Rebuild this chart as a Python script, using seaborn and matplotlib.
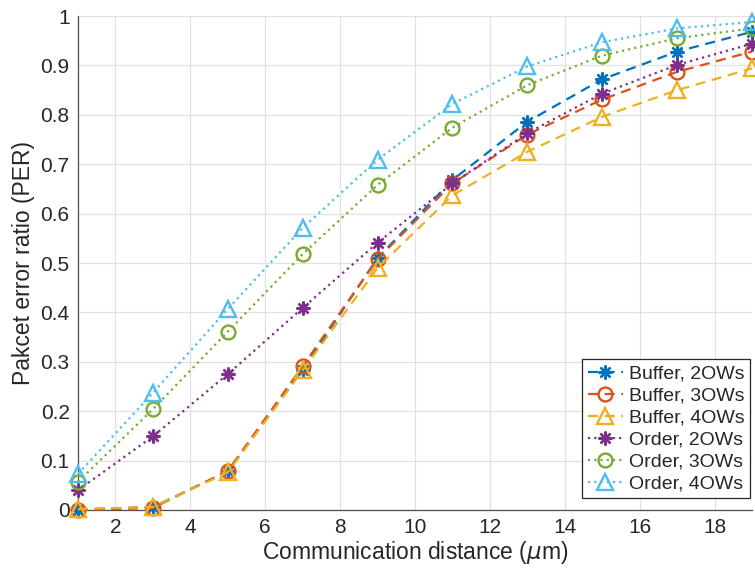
import numpy as np
import pandas as pd
import matplotlib
matplotlib.use("Agg")
import matplotlib.pyplot as plt
import seaborn as sns

# Communication distance (um)
distance = [1, 3, 5, 7, 9, 11, 13, 15, 17, 19]

# Packet error ratio per scheme
buffer_2ow = [0.001, 0.006, 0.078, 0.284, 0.510, 0.668, 0.786, 0.872, 0.928, 0.968]
buffer_3ow = [0.000, 0.004, 0.079, 0.291, 0.508, 0.661, 0.760, 0.831, 0.887, 0.928]
buffer_4ow = [0.002, 0.006, 0.076, 0.283, 0.490, 0.637, 0.725, 0.796, 0.850, 0.894]
order_2ow = [0.040, 0.149, 0.275, 0.409, 0.541, 0.661, 0.763, 0.843, 0.901, 0.944]
order_3ow = [0.057, 0.204, 0.361, 0.518, 0.658, 0.774, 0.860, 0.920, 0.955, 0.975]
order_4ow = [0.073, 0.237, 0.407, 0.571, 0.709, 0.822, 0.898, 0.947, 0.975, 0.988]

labels = ["Buffer, 2OWs", "Buffer, 3OWs", "Buffer, 4OWs",
          "Order, 2OWs", "Order, 3OWs", "Order, 4OWs"]
series = [buffer_2ow, buffer_3ow, buffer_4ow, order_2ow, order_3ow, order_4ow]
colors = ["#0072BD", "#D95319", "#EDB120", "#7E2F8E", "#77AC30", "#4DBEEE"]
markers = [(8, 2, 0), "o", "^", (8, 2, 0), "o", "^"]
dashes = [(4.5, 3), (4.5, 3), (4.5, 3), (1, 1.8), (1, 1.8), (1, 1.8)]

df = pd.DataFrame({
    "distance": distance * len(series),
    "per": np.concatenate(series),
    "scheme": np.repeat(labels, len(distance)),
})

sns.set_theme(style="whitegrid")
plt.rcParams["font.family"] = ["Liberation Sans", "DejaVu Sans"]
plt.rcParams["mathtext.fontset"] = "dejavusans"

fig = plt.figure(figsize=(7.55, 5.72), dpi=100)
ax = fig.add_axes([0.1033, 0.1084, 0.8927, 0.8636])

for lab, col, mk, ds in zip(labels, colors, markers, dashes):
    sub = df[df["scheme"] == lab]
    ms = 11 if mk == "^" else 10
    sns.lineplot(data=sub, x="distance", y="per", ax=ax, color=col,
                 marker=mk, markersize=ms, markerfacecolor="none",
                 markeredgecolor=col, markeredgewidth=1.7, linewidth=1.6,
                 dashes=ds, label=lab, clip_on=False, zorder=3)
for line, ds in zip(ax.get_lines(), dashes):
    line.set_dashes(ds)

ax.set_xlim(1, 19)
ax.set_ylim(0, 1)
ax.set_xticks([2, 4, 6, 8, 10, 12, 14, 16, 18])
yt = np.round(np.arange(0, 1.01, 0.1), 1)
ax.set_yticks(yt)
ax.set_yticklabels(["0" if v == 0 else ("1" if v == 1 else f"{v:g}") for v in yt])

ax.set_xlabel(r"Communication distance ($\mu$m)", fontsize=16.5, color="#262626", labelpad=1)
ax.set_ylabel("Pakcet error ratio (PER)", fontsize=16.5, color="#262626", labelpad=4)
ax.tick_params(axis="both", labelsize=15, colors="#262626", direction="in",
               length=5, width=0.8, pad=6)

ax.grid(True, color="#e1e1e1", linewidth=0.9)
ax.set_facecolor("white")
for side in ["top", "right"]:
    ax.spines[side].set_visible(False)
for side in ["left", "bottom"]:
    ax.spines[side].set_color("#4d4d4d")
    ax.spines[side].set_linewidth(0.9)

leg = ax.legend(loc="lower right", bbox_to_anchor=(1.0, 0.02), fontsize=14,
                frameon=True, fancybox=False, edgecolor="#262626",
                framealpha=1, handlelength=1.8, handletextpad=0.3,
                labelspacing=0.22, borderpad=0.3, borderaxespad=0.1)
leg.get_frame().set_linewidth(0.9)
for h, ds in zip(leg.get_lines(), dashes):
    h.set_dashes(ds)

fig.savefig("out.png", dpi=100)
